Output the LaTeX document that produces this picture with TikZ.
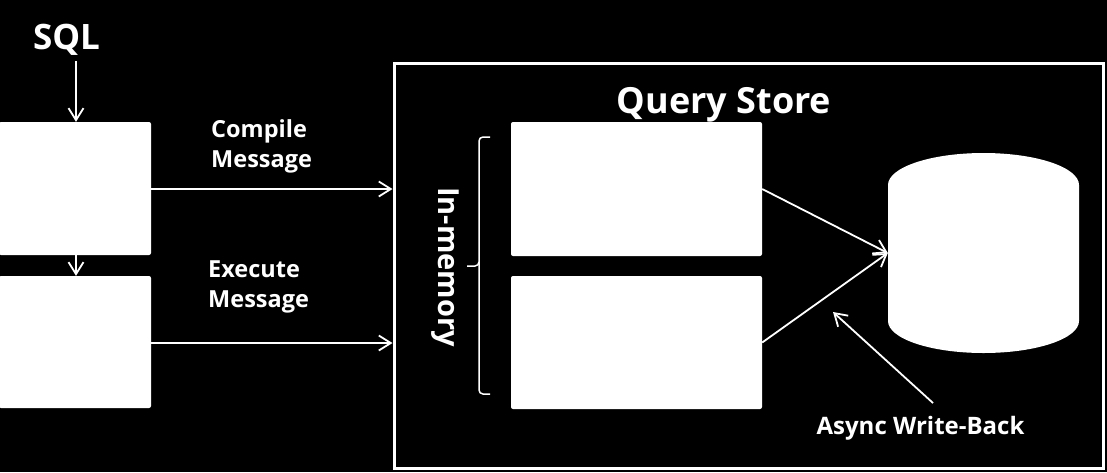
\documentclass[tikz,border=0pt]{standalone}
\usepackage{fontspec}
\setmainfont{Open Sans}
\usetikzlibrary{arrows.meta}
\begin{document}
\begin{tikzpicture}[x=1pt,y=-1pt,
  conn/.style={draw=white,line width=1.8pt,-{Straight Barb[length=12pt,width=15pt,line width=1.8pt]}},
  wbox/.style={fill=white,draw=none,rounded corners=2pt,inner sep=0pt},
  lbl/.style={text=white,font=\bfseries,inner sep=0pt},
  msg/.style={lbl,anchor=base west,font=\bfseries\fontsize{23.5}{30}\selectfont}]
\fill[black] (0,0) rectangle (1107,472);
\path[use as bounding box] (0,0) rectangle (1107,472);
% outer query store frame
\node[draw=white,line width=3pt,inner sep=0pt,minimum width=709pt,minimum height=405pt] (qs) at (748.5,265.5) {};
\node[lbl,anchor=base,font=\bfseries\fontsize{36}{40}\selectfont] (qst) at (724,113) {Query Store};
% left boxes
\node[wbox,minimum width=152pt,minimum height=133pt] (p1) at (75,188.5) {};
\node[wbox,minimum width=152pt,minimum height=132pt] (p2) at (75,342) {};
\node[lbl,anchor=base,font=\bfseries\fontsize{35}{40}\selectfont] (sql) at (66.5,49) {SQL};
\coordinate (sqlend) at (76,61);
\draw[conn] (sqlend) -- (p1.north -| sqlend);
\draw[conn] (p1.south -| sqlend) -- (p2.north -| sqlend);
% inner boxes
\node[wbox,minimum width=251pt,minimum height=134pt] (m1) at (636.5,189) {};
\node[wbox,minimum width=251pt,minimum height=133pt] (m2) at (636.5,342.5) {};
% message arrows
\coordinate (a1) at (151,189);
\coordinate (a2) at (151,343);
\draw[conn] (a1) -- (a1 -| qs.west);
\draw[conn] (a2) -- (a2 -| qs.west);
\node[msg] (cm1) at (211,137) {Compile};
\node[msg] (cm2) at (211,167) {Message};
\node[msg] (em1) at (208,277) {Execute};
\node[msg] (em2) at (208,307) {Message};
% brace
\draw[white,line width=1.5pt,rounded corners=4pt] (490,137) -- (479,137) -- (479,266) -- (467,266);
\draw[white,line width=1.5pt,rounded corners=4pt] (479,262) -- (479,394) -- (490,394);
\node[lbl,rotate=-90,font=\bfseries\fontsize{29}{34}\selectfont] (inm) at (445,267) {In-memory};
% database cylinder
\node[inner sep=0pt,minimum width=191pt,minimum height=200pt] (db) at (983.5,253) {};
\fill[white] (888,185) arc[start angle=180,end angle=360,x radius=95.5,y radius=32]
  -- (1079,321) arc[start angle=0,end angle=180,x radius=95.5,y radius=32] -- cycle;
\draw[conn] (m1.east) -- (db.west);
\draw[conn] (m2.east) -- (db.west);
% async write-back
\node[lbl,anchor=base,font=\bfseries\fontsize{24}{30}\selectfont] (awb) at (920.5,434) {Async Write-Back};
\coordinate (aw0) at (933,403);
\coordinate (aw1) at (833,312);
\draw[conn] (aw0) -- (aw1);
\end{tikzpicture}
\end{document}
